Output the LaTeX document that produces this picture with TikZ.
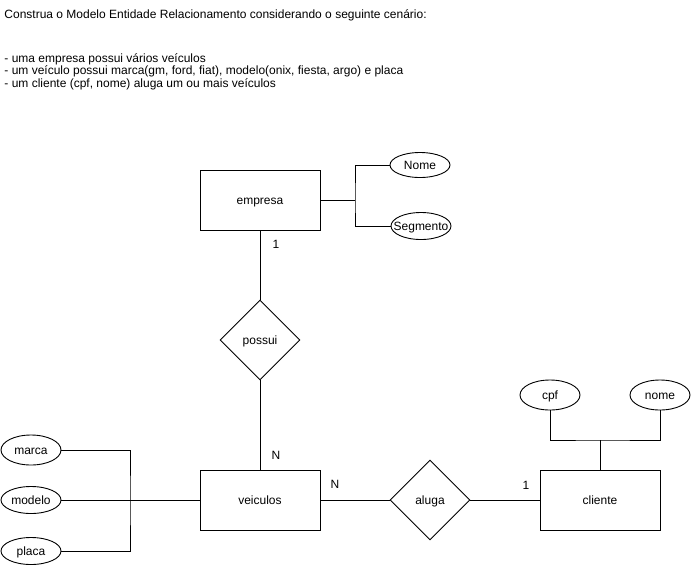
\documentclass[tikz,border=0pt]{standalone}
\usepackage{fontspec}
\setmainfont{Liberation Sans}
\usetikzlibrary{shapes.geometric}

\tikzset{
  rotulo/.style={text height=9pt, text depth=0pt},
  entidade/.style={draw, rectangle, rotulo, minimum width=120pt, minimum height=60pt, inner sep=0pt},
  relacao/.style={draw, diamond, rotulo, aspect=1, minimum width=80pt, minimum height=80pt, inner sep=0pt},
  atributo/.style={draw, ellipse, rotulo, minimum width=60pt, minimum height=30pt, inner sep=0pt},
  card/.style={inner sep=0pt},
  linha/.style={anchor=base west, inner sep=0pt}
}

\begin{document}
\begin{tikzpicture}[x=1pt, y=-1pt, font=\fontsize{12}{14}\selectfont, line width=0.9pt]

    % Page frame
    \useasboundingbox (0,0) rectangle (691,566);
    \fill[white] (0,0) rectangle (691,566);

    % Statement of the exercise
    \node[linha] (titulo) at (4,18.5) {Construa o Modelo Entidade Relacionamento considerando o seguinte cenário:};
    \node[linha] (item1) at (4,62) {- uma empresa possui vários veículos};
    \node[linha] (item2) at (4,74.5) {- um veículo possui marca(gm, ford, fiat), modelo(onix, fiesta, argo) e placa};
    \node[linha] (item3) at (4,87) {- um cliente (cpf, nome) aluga um ou mais veículos};

    % Entities
    \node[entidade] (empresa) at (260,200) {empresa};
    \node[entidade] (veiculos) at (260,500) {veiculos};
    \node[entidade] (cliente) at (600,500) {cliente};

    % Relationships
    \node[relacao] (possui) at (260,340) {possui};
    \node[relacao] (aluga) at (430,500) {aluga};

    % Attributes
    \node[atributo, minimum height=25pt] (Nome) at (420,165) {Nome};
    \node[atributo, minimum height=27pt] (Segmento) at (421,226) {\makebox[0pt]{Segmento}};
    \node[atributo] (marca) at (31,450) {marca};
    \node[atributo, minimum height=27pt] (modelo) at (31,500) {modelo};
    \node[atributo, minimum height=27pt] (placa) at (31,551) {placa};
    \node[atributo] (cpf) at (550,395) {cpf};
    \node[atributo] (nome) at (660,395) {nome};

    % Junction points of the attribute lines
    \coordinate (juncE) at (355,200);
    \coordinate (juncV) at (130,500);
    \coordinate (juncC) at (600,440);

    % Attribute lines
    \draw (empresa.east) -- (juncE);
    \draw (Nome.west) -| (juncE) |- (Segmento.west);
    \draw (marca.east) -| (juncV) |- (placa.east);
    \draw (modelo.east) -- (veiculos.west);
    \draw (cpf.south) |- (juncC) -| (nome.south);
    \draw (cliente.north) -- (juncC);

    % Relationship lines
    \draw (empresa.south) -- (possui.north);
    \draw (possui.south) -- (veiculos.north);
    \draw (veiculos.east) -- (aluga.west);
    \draw (aluga.east) -- (cliente.west);

    % Cardinalities
    \node[card] (c1) at (276,244) {1};
    \node[card] (c2) at (276,455) {N};
    \node[card] (c3) at (335,484) {N};
    \node[card] (c4) at (526,485) {1};
\end{tikzpicture}
\end{document}
